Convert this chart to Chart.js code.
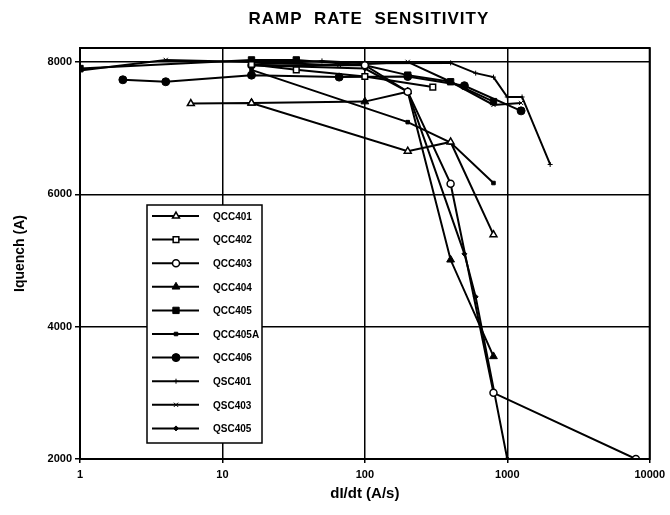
<!DOCTYPE html>
<html>
<head>
<meta charset="utf-8">
<script src="https://cdn.jsdelivr.net/npm/chart.js@4.4.1/dist/chart.umd.min.js"></script>
<style>
  html, body { margin: 0; background: #fff; }
</style>
</head>
<body>
<canvas id="rampChart" width="670" height="515"></canvas>
<script>
// 축 눈금
const xTicks = [1, 10, 100, 1000, 10000];
const yTicks = [2000, 4000, 6000, 8000];

// 시리즈 데이터 [dI/dt, Iquench]
const QCC401 = [[6, 7370], [16, 7380], [200, 6650], [400, 6790], [800, 5390]];
const QCC402 = [[16, 7960], [33, 7880], [100, 7780], [300, 7620]];
const QCC403 = [[16, 7950], [100, 7950], [200, 7550], [400, 6160], [800, 3000], [8000, 2000]];
const QCC404 = [[16, 7380], [100, 7400], [200, 7550], [400, 5010], [800, 3550]];
const QCC405 = [[1, 7900], [16, 8030], [33, 8030], [100, 7950], [200, 7800], [400, 7700], [800, 7400]];
const QCC405A = [[16, 7880], [200, 7090], [400, 6780], [800, 6170]];
const QCC406 = [[2, 7730], [4, 7700], [16, 7800], [66, 7770], [200, 7780], [500, 7640], [1250, 7260]];
const QSC401 = [[16, 7960], [50, 8015], [100, 7980], [400, 7985], [600, 7830], [800, 7770], [1000, 7470], [1270, 7470], [2000, 6450]];
const QSC403 = [[1, 7870], [4, 8030], [16, 8000], [66, 7950], [200, 8000], [400, 7700], [800, 7350], [1250, 7380]];
const QSC405 = [[16, 7950], [100, 7900], [200, 7550], [500, 5100], [600, 4450], [1000, 2000]];

const FONT = '"Liberation Sans", Arial, sans-serif';

function series(label, pts, style, radius, hollow) {
  return {
    label,
    data: pts.map(([x, y]) => ({ x, y })),
    borderColor: '#000',
    backgroundColor: hollow ? '#fff' : '#000',
    borderWidth: 2,
    pointStyle: style,
    pointRadius: radius,
    pointBorderWidth: hollow ? 1.5 : 1,
    pointBorderColor: '#000',
    pointBackgroundColor: hollow ? '#fff' : '#000',
    tension: 0,
    fill: false,
  };
}

// 제목 + 테두리
const framePlugin = {
  id: 'frame',
  afterDraw(chart) {
    const { ctx, chartArea: a } = chart;
    ctx.save();
    ctx.strokeStyle = '#000';
    ctx.lineWidth = 2;
    ctx.strokeRect(a.left, a.top, a.right - a.left, a.bottom - a.top);
    ctx.fillStyle = '#000';
    ctx.font = 'bold 17px ' + FONT;
    ctx.textAlign = 'center';
    ctx.textBaseline = 'middle';
    if ('letterSpacing' in ctx) ctx.letterSpacing = '1px';
    ctx.fillText('RAMP  RATE  SENSITIVITY', (a.left + a.right) / 2 + 4, 19);
    ctx.restore();
  },
};

// 차트 안 범례
const boxLegend = {
  id: 'boxLegend',
  afterDraw(chart) {
    const { ctx } = chart;
    const x0 = 147, y0 = 205, w = 115, h = 238, row = 23.6;
    ctx.save();
    ctx.fillStyle = '#fff';
    ctx.fillRect(x0, y0, w, h);
    ctx.strokeStyle = '#000';
    ctx.lineWidth = 1.5;
    ctx.strokeRect(x0, y0, w, h);
    chart.data.datasets.forEach((ds, i) => {
      const y = y0 + 11 + i * row;
      ctx.strokeStyle = '#000';
      ctx.lineWidth = 2;
      ctx.beginPath();
      ctx.moveTo(x0 + 5, y);
      ctx.lineTo(x0 + 52, y);
      ctx.stroke();
      ctx.fillStyle = ds.pointBackgroundColor;
      ctx.strokeStyle = '#000';
      ctx.lineWidth = ds.pointBorderWidth;
      Chart.helpers.drawPoint(ctx, {
        pointStyle: ds.pointStyle,
        radius: ds.pointRadius,
        borderWidth: ds.pointBorderWidth,
      }, x0 + 29, y);
      ctx.fillStyle = '#000';
      ctx.font = 'bold 10px ' + FONT;
      ctx.textAlign = 'left';
      ctx.textBaseline = 'middle';
      ctx.fillText(ds.label, x0 + 66, y + 1);
    });
    ctx.restore();
  },
};

const ctx = document.getElementById('rampChart').getContext('2d');
new Chart(ctx, {
  type: 'line',
  data: {
    datasets: [
      series('QCC401', QCC401, 'triangle', 4, true),
      series('QCC402', QCC402, 'rect', 4, true),
      series('QCC403', QCC403, 'circle', 3.5, true),
      series('QCC404', QCC404, 'triangle', 4.5, false),
      series('QCC405', QCC405, 'rect', 4.5, false),
      series('QCC405A', QCC405A, 'rect', 2.5, false),
      series('QCC406', QCC406, 'circle', 4, false),
      series('QSC401', QSC401, 'cross', 2.5, false),
      series('QSC403', QSC403, 'crossRot', 3, false),
      series('QSC405', QSC405, 'rectRot', 2.5, false),
    ],
  },
  options: {
    responsive: false,
    animation: false,
    layout: { padding: { left: 0, top: 48, right: 20, bottom: 0 } },
    plugins: {
      legend: { display: false },
      tooltip: { enabled: false },
    },
    scales: {
      x: {
        type: 'logarithmic',
        min: 1,
        max: 10000,
        afterBuildTicks: (s) => { s.ticks = xTicks.map((v) => ({ value: v })); },
        afterFit: (s) => { s.height = 56; },
        ticks: {
          color: '#000',
          font: { family: FONT, size: 11, weight: 'bold' },
          padding: 5,
          maxRotation: 0,
          callback: (v) => String(v),
        },
        grid: { color: '#000', lineWidth: 1.5, tickLength: 4 },
        border: { color: '#000', width: 2 },
        title: {
          display: true,
          text: 'dI/dt (A/s)',
          color: '#000',
          font: { family: FONT, size: 15, weight: 'bold' },
          padding: { top: 0, bottom: 12 },
        },
      },
      y: {
        type: 'linear',
        min: 2000,
        max: 8210,
        afterBuildTicks: (s) => { s.ticks = yTicks.map((v) => ({ value: v })); },
        afterFit: (s) => { s.width = 80; },
        ticks: {
          color: '#000',
          font: { family: FONT, size: 11, weight: 'bold' },
          padding: 3,
          callback: (v) => String(v),
        },
        grid: { color: '#000', lineWidth: 1.5, tickLength: 5 },
        border: { color: '#000', width: 2 },
        title: {
          display: true,
          text: 'Iquench (A)',
          color: '#000',
          font: { family: FONT, size: 14, weight: 'bold' },
          padding: { top: 12, bottom: 0 },
        },
      },
    },
  },
  plugins: [framePlugin, boxLegend],
});
</script>
</body>
</html>
